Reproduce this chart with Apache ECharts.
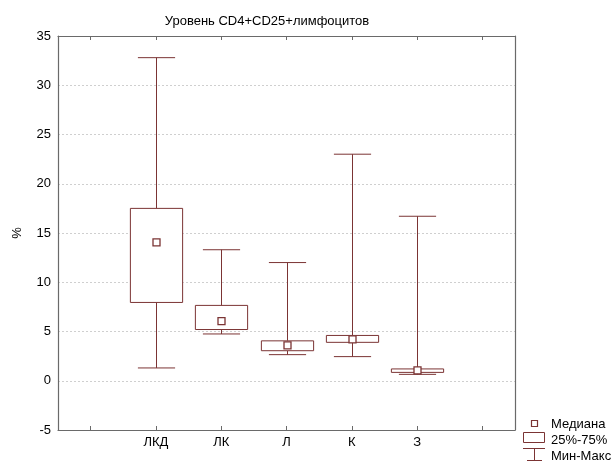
<!DOCTYPE html>
<html>
<head>
<meta charset="utf-8">
<script src="https://cdn.jsdelivr.net/npm/echarts@6/dist/echarts.min.js"></script>
<style>html,body{margin:0;padding:0;background:#fff;}#c{width:613px;height:465px;}</style>
</head>
<body>
<div id="c"></div>
<script>
const titleText = 'Уровень CD4+CD25+лимфоцитов';
const categories = ['', 'ЛКД', 'ЛК', 'Л', 'К', 'З', ''];
const groupIndex = [1, 2, 3, 4, 5];
const minVals = [1.3, 4.75, 2.65, 2.45, 0.65];
const q1Vals = [7.95, 5.2, 3.05, 3.9, 0.85];
const medianVals = [14.05, 6.05, 3.6, 4.2, 1.05];
const q3Vals = [17.5, 7.65, 4.05, 4.6, 1.2];
const maxVals = [32.8, 13.3, 12.0, 23.0, 16.7];
const yTicks = [-5, 0, 5, 10, 15, 20, 25, 30, 35];
const legendLabels = ['Медиана', '25%-75%', 'Мин-Макс'];

const C = '#7b3434';
const AX = '#6a6a6a';
const FONT = 'Liberation Sans, Arial, sans-serif';

const data = groupIndex.map((g, i) => [g, minVals[i], q1Vals[i], medianVals[i], q3Vals[i], maxVals[i]]);

function renderItem(params, api) {
  const x = api.value(0);
  const pMin = api.coord([x, api.value(1)]);
  const pQ1 = api.coord([x, api.value(2)]);
  const pMed = api.coord([x, api.value(3)]);
  const pQ3 = api.coord([x, api.value(4)]);
  const pMax = api.coord([x, api.value(5)]);
  const band = api.size([1, 0])[0];
  const bw = band * 0.4;
  const cw = band * 0.285;
  const cx = Math.round(pMin[0]) + 0.5;
  const st = {stroke: C, lineWidth: 1, fill: null};
  const children = [
    {type: 'line', shape: {x1: cx, y1: pMax[1], x2: cx, y2: pQ3[1]}, style: st},
    {type: 'line', shape: {x1: cx, y1: pQ1[1], x2: cx, y2: pMin[1]}, style: st},
    {type: 'line', shape: {x1: cx - cw, y1: pMax[1], x2: cx + cw, y2: pMax[1]}, style: st},
    {type: 'line', shape: {x1: cx - cw, y1: pMin[1], x2: cx + cw, y2: pMin[1]}, style: st},
    {type: 'rect', shape: {x: cx - bw, y: pQ3[1], width: 2 * bw, height: pQ1[1] - pQ3[1]}, style: {stroke: C, lineWidth: 1, fill: '#fff'}},
    {type: 'rect', shape: {x: cx - 3.5, y: pMed[1] - 3.5, width: 7, height: 7}, style: {stroke: C, lineWidth: 1.3, fill: '#fff'}}
  ];
  return {type: 'group', children: children};
}

const chart = echarts.init(document.getElementById('c'), null, {renderer: 'canvas'});
chart.setOption({
  animation: false,
  backgroundColor: '#fff',
  title: {
    text: titleText, left: 262, top: 10, textAlign: 'center',
    textStyle: {fontFamily: FONT, fontSize: 13, fontWeight: 'normal', color: '#000'}
  },
  grid: {left: 58, right: 98, top: 36, bottom: 35},
  xAxis: [{
    type: 'category', data: categories, boundaryGap: true, position: 'bottom',
    axisLine: {show: true, onZero: false, lineStyle: {color: AX, width: 1.2}},
    axisTick: {show: true, inside: true, alignWithLabel: true, length: 4, lineStyle: {color: AX}},
    axisLabel: {fontFamily: FONT, fontSize: 13, color: '#000', margin: 6, interval: 0},
    splitLine: {show: false}
  }, {
    type: 'category', data: categories, boundaryGap: true, position: 'top',
    axisLine: {show: true, onZero: false, lineStyle: {color: AX, width: 1.2}},
    axisTick: {show: true, inside: true, alignWithLabel: true, length: 4, lineStyle: {color: AX}},
    axisLabel: {show: false}
  }],
  yAxis: [{
    type: 'value', min: -5, max: 35, interval: 5, position: 'left',
    name: '%', nameLocation: 'middle', nameGap: 34, nameRotate: 90,
    nameTextStyle: {fontFamily: FONT, fontSize: 13, color: '#000'},
    axisLine: {show: true, onZero: false, lineStyle: {color: AX, width: 1.2}},
    axisTick: {show: false},
    axisLabel: {fontFamily: FONT, fontSize: 13, color: '#000', margin: 7,
      formatter: v => yTicks.includes(v) ? String(v) : ''},
    splitLine: {show: true, lineStyle: {color: '#cfcfcf', type: [2, 2], width: 1}}
  }, {
    type: 'value', min: -5, max: 35, interval: 5, position: 'right',
    axisLine: {show: true, onZero: false, lineStyle: {color: AX, width: 1.2}},
    axisTick: {show: false}, axisLabel: {show: false}, splitLine: {show: false}
  }],
  series: [{
    type: 'custom', renderItem: renderItem, data: data,
    encode: {x: 0, y: [1, 2, 3, 4, 5]}, clip: false
  }],
  graphic: [
    {type: 'rect', shape: {x: 531.5, y: 420.5, width: 6, height: 6}, style: {stroke: C, lineWidth: 1.2, fill: '#fff'}},
    {type: 'text', x: 551, y: 424, style: {text: legendLabels[0], fontFamily: FONT, fontSize: 13, fill: '#000', textVerticalAlign: 'middle'}},
    {type: 'rect', shape: {x: 523.5, y: 432.5, width: 21, height: 10}, style: {stroke: C, lineWidth: 1, fill: '#fff'}},
    {type: 'text', x: 551, y: 440, style: {text: legendLabels[1], fontFamily: FONT, fontSize: 13, fill: '#000', textVerticalAlign: 'middle'}},
    {type: 'line', shape: {x1: 523, y1: 448.5, x2: 545, y2: 448.5}, style: {stroke: C, lineWidth: 1}},
    {type: 'line', shape: {x1: 534.5, y1: 448.5, x2: 534.5, y2: 460.5}, style: {stroke: C, lineWidth: 1}},
    {type: 'line', shape: {x1: 527, y1: 460.5, x2: 542, y2: 460.5}, style: {stroke: C, lineWidth: 1}},
    {type: 'text', x: 551, y: 456, style: {text: legendLabels[2], fontFamily: FONT, fontSize: 13, fill: '#000', textVerticalAlign: 'middle'}}
  ]
});
</script>
</body>
</html>
